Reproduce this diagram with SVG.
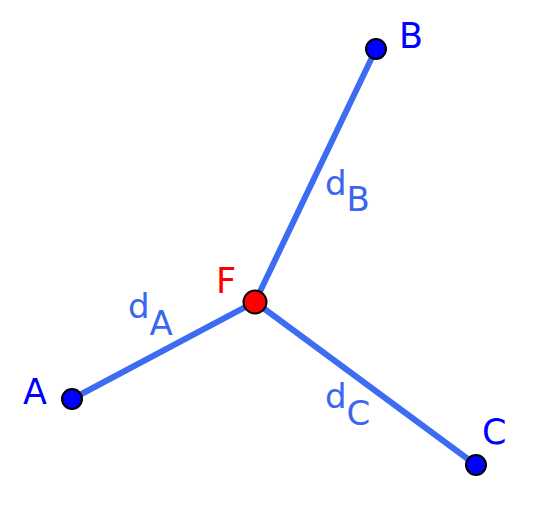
<svg xmlns="http://www.w3.org/2000/svg" width="544" height="518" viewBox="0 0 544 518">
<style>
.seg{stroke:#3d6cf2;stroke-width:6;fill:none}
.pt{stroke:#000;stroke-width:2}
.lbl{font-family:"DejaVu Sans",sans-serif;font-size:34px}
.plbl{font-family:"DejaVu Sans",sans-serif;font-size:35px}
.pl{fill:#0000ff}
.dl{fill:#3a66f0}
</style>
<rect width="544" height="518" fill="#fff"/>
<g id="connectors">
<line class="seg" x1="72" y1="399" x2="255" y2="302"/>
<line class="seg" x1="255" y1="302" x2="376" y2="49"/>
<line class="seg" x1="255" y1="302" x2="476" y2="465"/>
</g>
<g id="labels">
<text class="lbl dl" x="128" y="318">d<tspan y="335">A</tspan></text>
<text class="lbl dl" x="325" y="195">d<tspan y="211">B</tspan></text>
<text class="lbl dl" x="325" y="408">d<tspan y="425">C</tspan></text>
</g>
<g id="A"><circle class="pt" cx="72" cy="399" r="10" fill="#0000ff"/><text class="plbl pl" x="23" y="404">A</text></g>
<g id="B"><circle class="pt" cx="376" cy="49" r="10" fill="#0000ff"/><text class="plbl pl" x="399" y="48">B</text></g>
<g id="C"><circle class="pt" cx="476" cy="465" r="10" fill="#0000ff"/><text class="plbl pl" x="482" y="444">C</text></g>
<g id="F"><circle class="pt" cx="255" cy="302" r="11.5" fill="#ff0000"/><text class="plbl" fill="#ff0000" x="216" y="293">F</text></g>
</svg>
